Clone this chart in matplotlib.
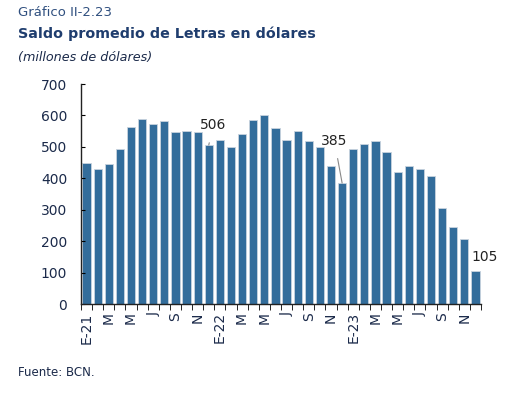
import matplotlib.pyplot as plt
import numpy as np

# saldo mensual, ene-2021 a dic-2023 (millones de dolares)
valores = [448, 428, 444, 494, 564, 589, 573, 581, 548, 551, 548, 506,
           522, 498, 540, 585, 602, 561, 522, 551, 519, 498, 439, 385,
           494, 510, 518, 485, 419, 439, 431, 406, 306, 245, 206, 105]
meses = ['E-21', '', 'M', '', 'M', '', 'J', '', 'S', '', 'N', '',
         'E-22', '', 'M', '', 'M', '', 'J', '', 'S', '', 'N', '',
         'E-23', '', 'M', '', 'M', '', 'J', '', 'S', '', 'N', '']
etiquetas = {11: '506', 23: '385', 35: '105'}

azul = '#336d9b'
texto = '#1b2a4a'
plt.rcParams['font.family'] = ['DejaVu Sans']

fig = plt.figure(figsize=(5.12, 3.97), dpi=100)
ax = fig.add_axes([81/512, 1-304/397, 400/512, 220/397])

x = np.arange(len(valores))
ax.bar(x, valores, width=0.74, color=azul, edgecolor='#c9d3de', linewidth=0.6)

ax.set_xlim(-0.5, len(valores)-0.5)
ax.set_ylim(0, 700)
ax.set_yticks(range(0, 701, 100))
ax.tick_params(axis='y', direction='in', length=3, labelsize=10, labelcolor=texto, pad=10)

idx = [i for i, m in enumerate(meses) if m]
ax.set_xticks(idx)
ax.set_xticklabels([meses[i] for i in idx], rotation=90, fontsize=10, color=texto)
ax.set_xticks(np.arange(-0.5, len(valores), 1), minor=True)
ax.tick_params(axis='x', which='major', length=0, pad=6)
ax.tick_params(axis='x', which='minor', direction='out', length=4)

for s in ['top', 'right']:
    ax.spines[s].set_visible(False)
for s in ['left', 'bottom']:
    ax.spines[s].set_linewidth(1.0)
    ax.spines[s].set_color('#222222')

# anotaciones
ax.annotate(etiquetas[11], xy=(11, valores[11]), xytext=(11.4, 570), ha='center', va='center',
            fontsize=10, color='#222222',
            arrowprops=dict(arrowstyle='-', color='#888888', lw=0.8, shrinkA=6, shrinkB=0))
ax.annotate(etiquetas[23], xy=(23, valores[23]), xytext=(22.3, 520), ha='center', va='center',
            fontsize=10, color='#222222',
            arrowprops=dict(arrowstyle='-', color='#888888', lw=0.8, shrinkA=6, shrinkB=0))
ax.text(35.8, 150, etiquetas[35], ha='center', va='center', fontsize=10, color='#222222')

fig.text(18/512, 1-13/397, 'Gráfico II-2.23', fontsize=9.5, color='#2f4f7f', va='center')
fig.text(18/512, 1-34/397, 'Saldo promedio de Letras en dólares', fontsize=10.3,
         fontweight='bold', color='#1f3d6e', va='center')
fig.text(18/512, 1-58/397, '(millones de dólares)', fontsize=9.2, style='italic',
         color=texto, va='center')
fig.text(18/512, 1-373/397, 'Fuente: BCN.', fontsize=8.5, color=texto, va='center')

plt.savefig('out.png', dpi=100)
